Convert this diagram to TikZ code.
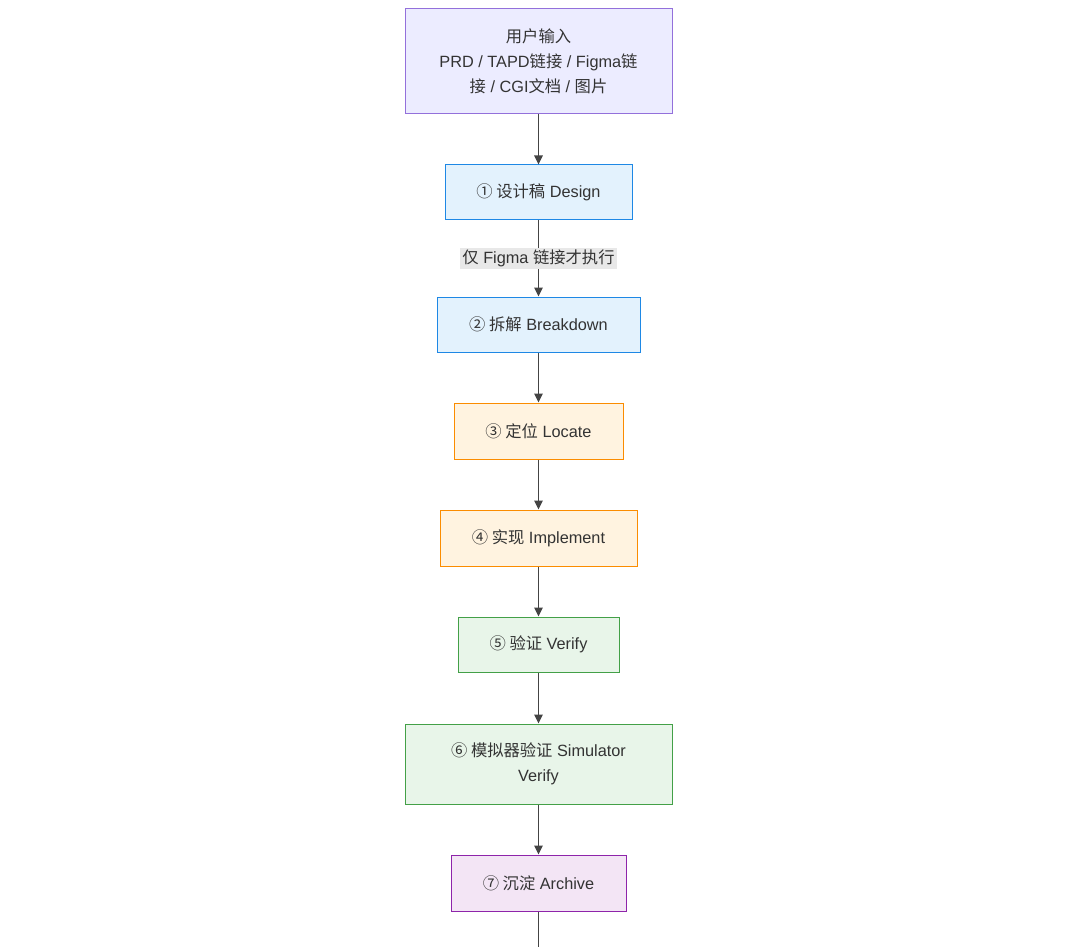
\documentclass[tikz,border=0pt]{standalone}
\usepackage{fontspec}
\setmainfont{Liberation Sans}
\newfontfamily\cj{Noto Sans CJK SC}
\usetikzlibrary{arrows.meta}
\definecolor{txt}{HTML}{333333}
\definecolor{ln}{HTML}{444444}
\definecolor{inF}{HTML}{ECECFF}\definecolor{inD}{HTML}{9370DB}
\definecolor{bF}{HTML}{E3F2FD}\definecolor{bD}{HTML}{1E88E5}
\definecolor{oF}{HTML}{FFF3E0}\definecolor{oD}{HTML}{FB8C00}
\definecolor{gF}{HTML}{E8F5E9}\definecolor{gD}{HTML}{43A047}
\definecolor{pF}{HTML}{F3E5F5}\definecolor{pD}{HTML}{8E24AA}
\definecolor{lblF}{HTML}{E8E8E8}
\tikzset{
  box/.style={draw, line width=1pt, rectangle, inner sep=0pt, align=center,
    text=txt, font=\fontsize{16.3}{25}\selectfont},
  inbox/.style={box, fill=inF, draw=inD},
  bluebox/.style={box, fill=bF, draw=bD},
  orangebox/.style={box, fill=oF, draw=oD},
  greenbox/.style={box, fill=gF, draw=gD},
  purplebox/.style={box, fill=pF, draw=pD},
  link/.style={draw=ln, line width=1.3pt, -{Triangle[length=9pt,width=8.5pt]}},
  plainlink/.style={draw=ln, line width=1.3pt},
  lbl/.style={fill=lblF, text=txt, inner sep=2pt, font=\fontsize{16.3}{20}\selectfont}
}
\begin{document}
\begin{tikzpicture}[x=1pt,y=-1pt]
\useasboundingbox (0,0) rectangle (1080,947);
\node[inbox, minimum width=267pt, minimum height=105pt] (in) at (538.5,61.5)
  {{\cj 用户输入}\\PRD / TAPD{\cj 链接} / Figma{\cj 链}\\{\cj 接} / CGI{\cj 文档} / {\cj 图片}};
\node[bluebox, minimum width=187pt, minimum height=55pt] (d1) at (538.5,192.5)
  {{\cj ① 设计稿} Design};
\node[bluebox, minimum width=203pt, minimum height=55pt] (d2) at (538.5,324.5)
  {{\cj ② 拆解} Breakdown};
\node[orangebox, minimum width=169pt, minimum height=56pt] (d3) at (538.5,431)
  {{\cj ③ 定位} Locate};
\node[orangebox, minimum width=197pt, minimum height=56pt] (d4) at (538.5,538)
  {{\cj ④ 实现} Implement};
\node[greenbox, minimum width=161pt, minimum height=55pt] (d5) at (538.5,644.5)
  {{\cj ⑤ 验证} Verify};
\node[greenbox, minimum width=267pt, minimum height=80pt] (d6) at (538.5,764)
  {{\cj ⑥ 模拟器验证} Simulator\\Verify};
\node[purplebox, minimum width=175pt, minimum height=56pt] (d7) at (538.5,883)
  {{\cj ⑦ 沉淀} Archive};
\coordinate (end) at (538.5,947);
\draw[link] (in) -- (d1);
\draw[link] (d1) -- node[lbl] {{\cj 仅} Figma {\cj 链接才执行}} (d2);
\draw[link] (d2) -- (d3);
\draw[link] (d3) -- (d4);
\draw[link] (d4) -- (d5);
\draw[link] (d5) -- (d6);
\draw[link] (d6) -- (d7);
\draw[plainlink] (d7) -- (end);
\end{tikzpicture}
\end{document}
